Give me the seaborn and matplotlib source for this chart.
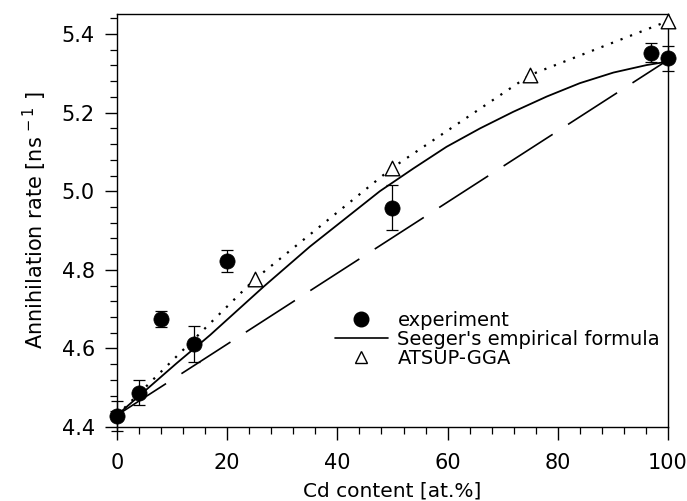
import numpy as np
import pandas as pd
import matplotlib
matplotlib.use("Agg")
import matplotlib.pyplot as plt
from matplotlib.lines import Line2D
from matplotlib.ticker import MultipleLocator
import seaborn as sns

# ---- data ----
exp_x = [0, 4, 8, 14, 20, 50, 97, 100]
exp_y = [4.428, 4.487, 4.674, 4.611, 4.823, 4.958, 5.353, 5.338]
exp_err = [0.038, 0.032, 0.020, 0.046, 0.028, 0.057, 0.025, 0.031]

seeger_x = [0, 10.8, 16.9, 26.6, 35.0, 44.1, 47.7, 53.8, 59.8, 65.9,
            71.9, 78.0, 84.0, 90.1, 96.1, 100]
seeger_y = [4.430, 4.562, 4.634, 4.757, 4.859, 4.960, 5.000, 5.058, 5.113,
            5.160, 5.202, 5.241, 5.275, 5.302, 5.321, 5.330]

linear_x = [0, 100]
linear_y = [4.430, 5.334]

atsup_x = [0, 25, 50, 75, 100]
atsup_y = [4.430, 4.776, 5.060, 5.296, 5.433]

x_ticks = [0, 20, 40, 60, 80, 100]
y_ticks = [4.4, 4.6, 4.8, 5.0, 5.2, 5.4]
x_label = "Cd content [at.%]"
y_label = r"Annihilation rate [ns$^{\,-1}$ ]"
legend_labels = ["experiment", "Seeger's empirical formula", "ATSUP-GGA"]

sns.set_style("ticks")
plt.rcParams["font.family"] = ["DejaVu Sans"]
plt.rcParams["mathtext.fontset"] = "dejavusans"
plt.rcParams["text.color"] = "black"
plt.rcParams["axes.labelcolor"] = "black"

fig = plt.figure(figsize=(6.87, 5.01), dpi=100)
ax = fig.add_axes([117 / 687, 1 - 427 / 501, 551 / 687, 413 / 501])

exp_df = pd.DataFrame({"x": exp_x, "y": exp_y, "err": exp_err})
seeger_df = pd.DataFrame({"x": seeger_x, "y": seeger_y})
linear_df = pd.DataFrame({"x": linear_x, "y": linear_y})
atsup_df = pd.DataFrame({"x": atsup_x, "y": atsup_y})

# dashed linear line
sns.lineplot(data=linear_df, x="x", y="y", ax=ax, color="black", lw=1.2,
             sort=False, zorder=2)
ax.lines[-1].set_dashes((35, 11))
# dotted ATSUP line
sns.lineplot(data=atsup_df, x="x", y="y", ax=ax, color="black", lw=1.6,
             sort=False, zorder=2)
ax.lines[-1].set_linestyle((0, (1, 3.6)))
# solid Seeger curve
sns.lineplot(data=seeger_df, x="x", y="y", ax=ax, color="black", lw=1.3,
             sort=False, zorder=3)

# ATSUP triangles (the x=0 point is hidden under the experimental circle)
sns.scatterplot(data=atsup_df[atsup_df["x"] > 0], x="x", y="y", ax=ax,
                marker="^", s=110, facecolor="white", edgecolor="black",
                linewidth=1.0, zorder=4, clip_on=False)

# error bars + experiment circles
ax.errorbar(exp_df["x"], exp_df["y"], yerr=exp_df["err"], fmt="none",
            ecolor="black", elinewidth=0.9, capsize=4.5, capthick=0.9,
            zorder=5, clip_on=False)
sns.scatterplot(data=exp_df, x="x", y="y", ax=ax, marker="o", s=120,
                color="black", edgecolor="black", linewidth=0.5, zorder=6,
                clip_on=False)

ax.set_xlim(0, 100)
ax.set_ylim(4.4, 5.451)
ax.set_xticks(x_ticks)
ax.set_yticks(y_ticks)
ax.set_yticklabels([f"{v:.1f}" for v in y_ticks])
ax.xaxis.set_minor_locator(MultipleLocator(4))
ax.yaxis.set_minor_locator(MultipleLocator(0.04))
ax.tick_params(axis="both", which="major", direction="out", length=9,
               width=1.0, labelsize=15, colors="black")
ax.tick_params(axis="x", which="major", pad=10)
ax.tick_params(axis="y", which="major", pad=7)
ax.tick_params(axis="both", which="minor", direction="out", length=5,
               width=0.9, colors="black")
for sp in ax.spines.values():
    sp.set_visible(True)
    sp.set_linewidth(1.0)
    sp.set_color("black")

ax.set_xlabel(x_label, fontsize=14.5, labelpad=6)
ax.set_ylabel(y_label, fontsize=15, labelpad=9)

handles = [
    Line2D([], [], marker="o", ls="none", color="black", markersize=10.5),
    Line2D([], [], color="black", lw=1.2),
    Line2D([], [], marker="^", ls="none", markerfacecolor="white",
           markeredgecolor="black", markersize=8.5, markeredgewidth=1.0),
]
leg = ax.legend(handles, legend_labels, loc="upper left",
                bbox_to_anchor=(0.396, 0.281), frameon=False, fontsize=14,
                borderpad=0, borderaxespad=0, handlelength=2.7,
                handletextpad=0.5, labelspacing=0.0)

fig.savefig("out.png", dpi=100)
